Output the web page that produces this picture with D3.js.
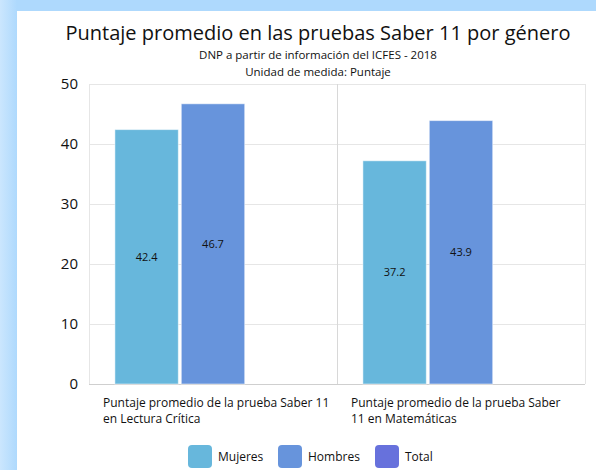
<!DOCTYPE html>
<html>
<head>
<meta charset="utf-8">
<script src="https://cdn.jsdelivr.net/npm/d3@7"></script>
<style>
  html, body { margin: 0; padding: 0; }
  body { width: 596px; height: 470px; background: #aed9fd; overflow: hidden; position: relative; }
  #panel { position: absolute; left: 17px; top: 11px; width: 600px; height: 480px; background: #fff; }
  #edge { position: absolute; left: 0; top: 0; width: 17px; height: 470px;
          background: linear-gradient(to right, #cbe6fe, #aed9fd); }
  svg { position: absolute; left: 0; top: 0; font-family: "Open Sans", "Noto Sans", sans-serif; }
</style>
</head>
<body>
<div id="edge"></div>
<div id="panel"></div>
<svg id="chart" width="596" height="470"></svg>
<script>
const categories = [
  ["Puntaje promedio de la prueba Saber 11", "en Lectura Crítica"],
  ["Puntaje promedio de la prueba Saber", "11 en Matemáticas"]
];
const series = ["Mujeres", "Hombres", "Total"];
const mujeres = [42.4, 37.2];
const hombres = [46.7, 43.9];
const total = [null, null];
const colors = ["#67b7dc", "#6794dc", "#6771dc"];
const yTicks = [0, 10, 20, 30, 40, 50];

const svg = d3.select("#chart");
const margin = { left: 89, right: 11, top: 84, bottom: 86 };
const width = 596, height = 470;

const x = d3.scaleBand().domain(d3.range(categories.length)).range([margin.left, width - margin.right]);
const xs = d3.scaleBand().domain(series).range([0, x.bandwidth()]).paddingInner(0.045).paddingOuter(0.39);
const y = d3.scaleLinear().domain([0, 50]).range([height - margin.bottom, margin.top]);

// titulos
svg.append("text").attr("x", 318).attr("y", 40).attr("text-anchor", "middle")
  .attr("font-size", 20).attr("fill", "#111").text("Puntaje promedio en las pruebas Saber 11 por género");
svg.append("text").attr("x", 318).attr("y", 59).attr("text-anchor", "middle")
  .attr("font-size", 11.5).attr("fill", "#111").text("DNP a partir de información del ICFES - 2018");
svg.append("text").attr("x", 318).attr("y", 75.5).attr("text-anchor", "middle")
  .attr("font-size", 11.5).attr("fill", "#111").text("Unidad de medida: Puntaje");

// rejilla horizontal
svg.append("g").selectAll("line").data(yTicks).join("line")
  .attr("x1", margin.left).attr("x2", width - margin.right)
  .attr("y1", d => y(d) + 0.5).attr("y2", d => y(d) + 0.5)
  .attr("stroke", d => d === 0 ? "#cfcfcf" : "#e6e6e6");

// rejilla vertical
svg.append("g").selectAll("line").data(d3.range(categories.length + 1)).join("line")
  .attr("x1", d => (d < categories.length ? x(d) : x.range()[1]) + 0.5)
  .attr("x2", d => (d < categories.length ? x(d) : x.range()[1]) + 0.5)
  .attr("y1", y(50)).attr("y2", y(0))
  .attr("stroke", d => d === 1 ? "#d8d8d8" : "#e6e6e6");

// eje y
const yAxis = svg.append("g").attr("transform", `translate(${margin.left},0)`)
  .call(d3.axisLeft(y).tickValues(yTicks).tickSize(0).tickPadding(11));
yAxis.select(".domain").remove();
yAxis.selectAll("text").attr("font-size", 15).attr("fill", "#111").attr("font-family", "Open Sans, sans-serif");

// barras
const rows = categories.map((c, i) => ({ i, values: [mujeres[i], hombres[i], total[i]] }));
const groups = svg.append("g").selectAll("g").data(rows).join("g")
  .attr("transform", d => `translate(${x(d.i)},0)`);

groups.selectAll("rect")
  .data(d => d.values.map((v, k) => ({ k, v })).filter(e => e.v !== null))
  .join("rect")
  .attr("x", e => xs(series[e.k]))
  .attr("width", xs.bandwidth())
  .attr("y", e => y(e.v))
  .attr("height", e => y(0) - y(e.v))
  .attr("fill", e => colors[e.k])
  .attr("stroke", "#fff").attr("stroke-opacity", 0.5);

groups.selectAll("text")
  .data(d => d.values.map((v, k) => ({ k, v })).filter(e => e.v !== null))
  .join("text")
  .attr("x", e => xs(series[e.k]) + xs.bandwidth() / 2)
  .attr("y", e => y(e.v / 2))
  .attr("dy", "0.35em")
  .attr("text-anchor", "middle")
  .attr("font-size", 11).attr("fill", "#111")
  .text(e => e.v.toFixed(1));

// etiquetas de categoria
svg.append("g").selectAll("text").data(categories).join("text")
  .attr("x", (d, i) => x(i) + 14)
  .attr("y", 407)
  .attr("font-size", 12).attr("fill", "#111")
  .selectAll("tspan").data(d => d).join("tspan")
  .attr("x", function () { return d3.select(this.parentNode).attr("x"); })
  .attr("dy", (d, j) => j === 0 ? 0 : 16)
  .text(d => d);

// leyenda
const legendX = [188, 278, 375];
const legend = svg.append("g").selectAll("g").data(series).join("g")
  .attr("transform", (d, i) => `translate(${legendX[i]},445)`);
legend.append("rect").attr("width", 24).attr("height", 23).attr("rx", 4)
  .attr("fill", (d, i) => colors[i]);
legend.append("text").attr("x", 30).attr("y", 11.5).attr("dy", "0.35em")
  .attr("font-size", 12).attr("fill", "#111").text(d => d);
</script>
</body>
</html>
